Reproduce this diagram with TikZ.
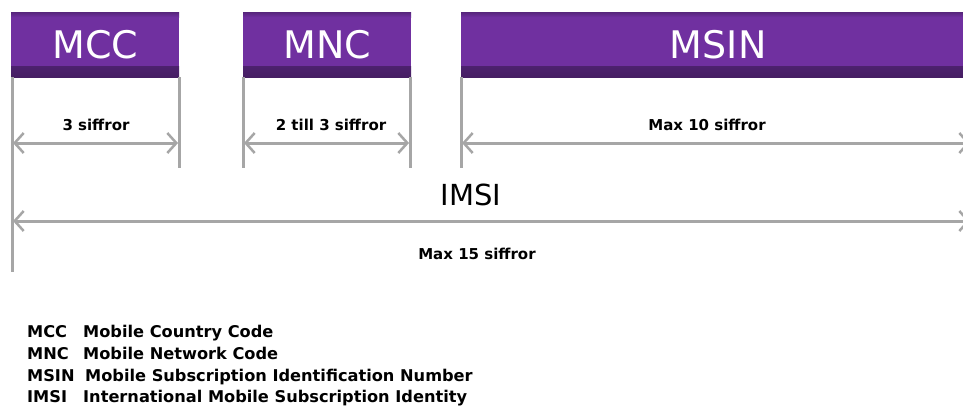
\documentclass[tikz,border=0pt]{standalone}
\usepackage{fontspec}
\setmainfont{DejaVu Sans}
\usetikzlibrary{arrows.meta}
\definecolor{mypurple}{HTML}{7030A0}
\definecolor{linegray}{HTML}{A6A6A6}
\tikzset{
  fieldbox/.style={anchor=north west, fill=mypurple, inner sep=0pt,
    text=white, font=\fontsize{38}{40}\selectfont,
    path picture={
      \shade[top color=mypurple, bottom color=mypurple!62!black]
        ([yshift=11pt]path picture bounding box.south west) rectangle (path picture bounding box.south east);
      \shade[top color=mypurple!78!black, bottom color=mypurple]
        (path picture bounding box.north west) rectangle ([yshift=-5pt]path picture bounding box.north east);
    }},
  guide/.style={draw=linegray, line width=3pt},
  span/.style={draw=linegray, line width=3pt, {Straight Barb[length=9pt,width=20pt,line width=2.5pt]}-{Straight Barb[length=9pt,width=20pt,line width=2.5pt]}},
  small/.style={font=\bfseries\fontsize{15}{17}\selectfont, inner sep=0pt},
  legend/.style={font=\bfseries\fontsize{16.2}{18}\selectfont, inner sep=0pt, anchor=base west}
}
\begin{document}
\begin{tikzpicture}[x=1pt,y=-1pt]
\useasboundingbox (0,0) rectangle (963,407);
\fill[white] (0,0) rectangle (963,407);
% boxes
\node[fieldbox, minimum width=168pt, minimum height=65pt] (mcc) at (11,12) {MCC};
\node[fieldbox, minimum width=168pt, minimum height=65pt] (mnc) at (243,12) {MNC};
\node[fieldbox, minimum width=514pt, minimum height=65pt] (msin) at (461,12) {MSIN};
% guide coordinates
\coordinate (g1t) at (12,77);   \coordinate (g1b) at (12,272);
\coordinate (g2t) at (179,77);  \coordinate (g2b) at (179,168);
\coordinate (g3t) at (243,77);  \coordinate (g3b) at (243,168);
\coordinate (g4t) at (410,77);  \coordinate (g4b) at (410,168);
\coordinate (g5t) at (461,77);  \coordinate (g5b) at (461,168);
\draw[guide] (g1t) -- (g1b);
\draw[guide] (g2t) -- (g2b);
\draw[guide] (g3t) -- (g3b);
\draw[guide] (g4t) -- (g4b);
\draw[guide] (g5t) -- (g5b);
% spans
\coordinate (a1l) at (13,143);  \coordinate (a1r) at (178,143);
\coordinate (a2l) at (244,143); \coordinate (a2r) at (409,143);
\coordinate (a3l) at (462,143); \coordinate (a3r) at (970,143);
\coordinate (a4l) at (13,221);  \coordinate (a4r) at (970,221);
\draw[span] (a1l) -- (a1r);
\draw[span] (a2l) -- (a2r);
\draw[span] (a3l) -- (a3r);
\draw[span] (a4l) -- (a4r);
% labels
\node[small] (l1) at (96,125) {3 siffror};
\node[small] (l2) at (331,125) {2 till 3 siffror};
\node[small] (l3) at (707,125) {Max 10 siffror};
\node[font=\fontsize{29}{31}\selectfont, inner sep=0pt] (imsi) at (471,195) {IMSI};
\node[small] (l4) at (477,254) {Max 15 siffror};
% legend
\node[legend] (k1) at (27,337) {MCC};
\node[legend] (d1) at (83,337) {Mobile Country Code};
\node[legend] (k2) at (27,359) {MNC};
\node[legend] (d2) at (83,359) {Mobile Network Code};
\node[legend] (k3) at (27,381) {MSIN};
\node[legend] (d3) at (85,381) {Mobile Subscription Identification Number};
\node[legend] (k4) at (27,402) {IMSI};
\node[legend] (d4) at (83,402) {International Mobile Subscription Identity};
\end{tikzpicture}
\end{document}
